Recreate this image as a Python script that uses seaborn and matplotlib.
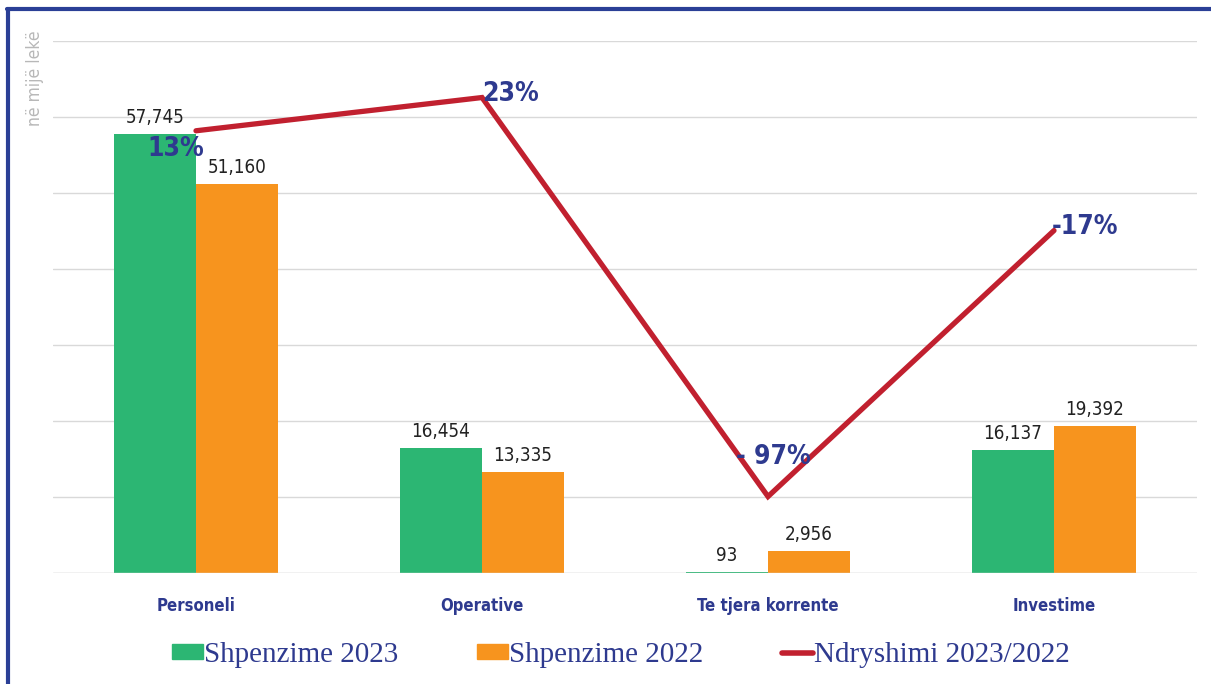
import numpy as np
import pandas as pd
import matplotlib.pyplot as plt
import seaborn as sns
from matplotlib.patches import Patch
from matplotlib.lines import Line2D

# të dhënat
categories = ['Personeli', 'Operative', 'Te tjera korrente', 'Investime']
spend_2023 = [57745, 16454, 93, 16137]
spend_2022 = [51160, 13335, 2956, 19392]
change_pct = [13, 23, -97, -17]
change_labels = ['13%', '23%', '- 97%', '-17%']
series_names = ['Shpenzime 2023', 'Shpenzime 2022', 'Ndryshimi 2023/2022']

GREEN = '#2cb673'
ORANGE = '#f7941e'
RED = '#c1202f'
NAVY = '#2e3a8f'

df = pd.DataFrame({
    'cat': categories * 2,
    'value': spend_2023 + spend_2022,
    'year': [series_names[0]] * 4 + [series_names[1]] * 4,
})

sns.set_style('white')
fig = plt.figure(figsize=(12.11, 6.84), dpi=100)
ax = fig.add_axes([53 / 1211, 1 - 573 / 684, 1144 / 1211, 532 / 684])

sns.barplot(data=df, x='cat', y='value', hue='year', palette=[GREEN, ORANGE],
            width=0.573, ax=ax, legend=False, saturation=1, edgecolor='none')
ax.set_ylim(0, 70000)
ax.set_xlim(-0.5, 3.5)
ax.set_yticks(np.arange(0, 70001, 10000))
ax.yaxis.grid(True, color='#d9d9d9', linewidth=1)
ax.set_axisbelow(True)
ax.set_xlabel('')
ax.set_ylabel('')
for s in ax.spines.values():
    s.set_visible(False)
ax.axhline(0, color='#d9d9d9', linewidth=1, zorder=3)

# vlerat mbi shtylla
for cont in ax.containers:
    ax.bar_label(cont, labels=[f'{v:,.0f}' for v in cont.datavalues], padding=5,
                 fontsize=13.5, color='#222222', fontstretch='condensed')

# linja e ndryshimit në bosht dytësor
ax2 = ax.twinx()
xpos = np.arange(len(categories))
sns.lineplot(x=xpos, y=change_pct, ax=ax2, color=RED, linewidth=3.8,
             solid_capstyle='round', solid_joinstyle='miter')
ax2.set_ylim(-120, 40)
ax2.set_xlim(-0.5, 3.5)
ax2.axis('off')

ax.tick_params(axis='y', left=False, right=False, labelleft=False)
ax.tick_params(axis='x', bottom=False, pad=14)
for lbl in ax.get_xticklabels():
    lbl.set_fontweight('bold')
    lbl.set_color(NAVY)
    lbl.set_fontsize(12)
    lbl.set_fontstretch('condensed')

offsets = [(-0.07, -5.5, 'center', 'center'), (0.1, 1, 'center', 'center'),
           (0.02, 8, 'center', 'bottom'), (0.11, 1, 'center', 'center')]
for x, y, t, (dx, dy, ha, va) in zip(xpos, change_pct, change_labels, offsets):
    ax2.text(x + dx, y + dy, t, ha=ha, va=va, fontsize=19, fontweight='bold',
             color=NAVY, fontstretch='condensed')

fig.text(35 / 1211, 1 - 78 / 684, 'në mijë lekë', rotation=90, ha='center', va='center',
         fontsize=12.5, color='#b8b8b8', fontstretch='condensed')

handles = [Patch(color=GREEN), Patch(color=ORANGE), Line2D([0], [0], color=RED, linewidth=4,
                                                           solid_capstyle='round')]
fig.legend(handles, series_names, loc='center', bbox_to_anchor=(0.513, 1 - 655 / 684), ncol=3,
           frameon=False, handlelength=1.05, handleheight=0.45, handletextpad=0.05,
           columnspacing=2.7, prop={'family': 'Liberation Serif', 'size': 21},
           labelcolor=NAVY)

# korniza blu
fig.add_artist(Line2D([7 / 1211, 1], [1 - 9 / 684, 1 - 9 / 684], color='#2a3f96', linewidth=3,
                      transform=fig.transFigure))
fig.add_artist(Line2D([8 / 1211, 8 / 1211], [0, 1 - 9 / 684], color='#2a3f96', linewidth=3,
                      transform=fig.transFigure))

fig.savefig('out.png', dpi=100)
